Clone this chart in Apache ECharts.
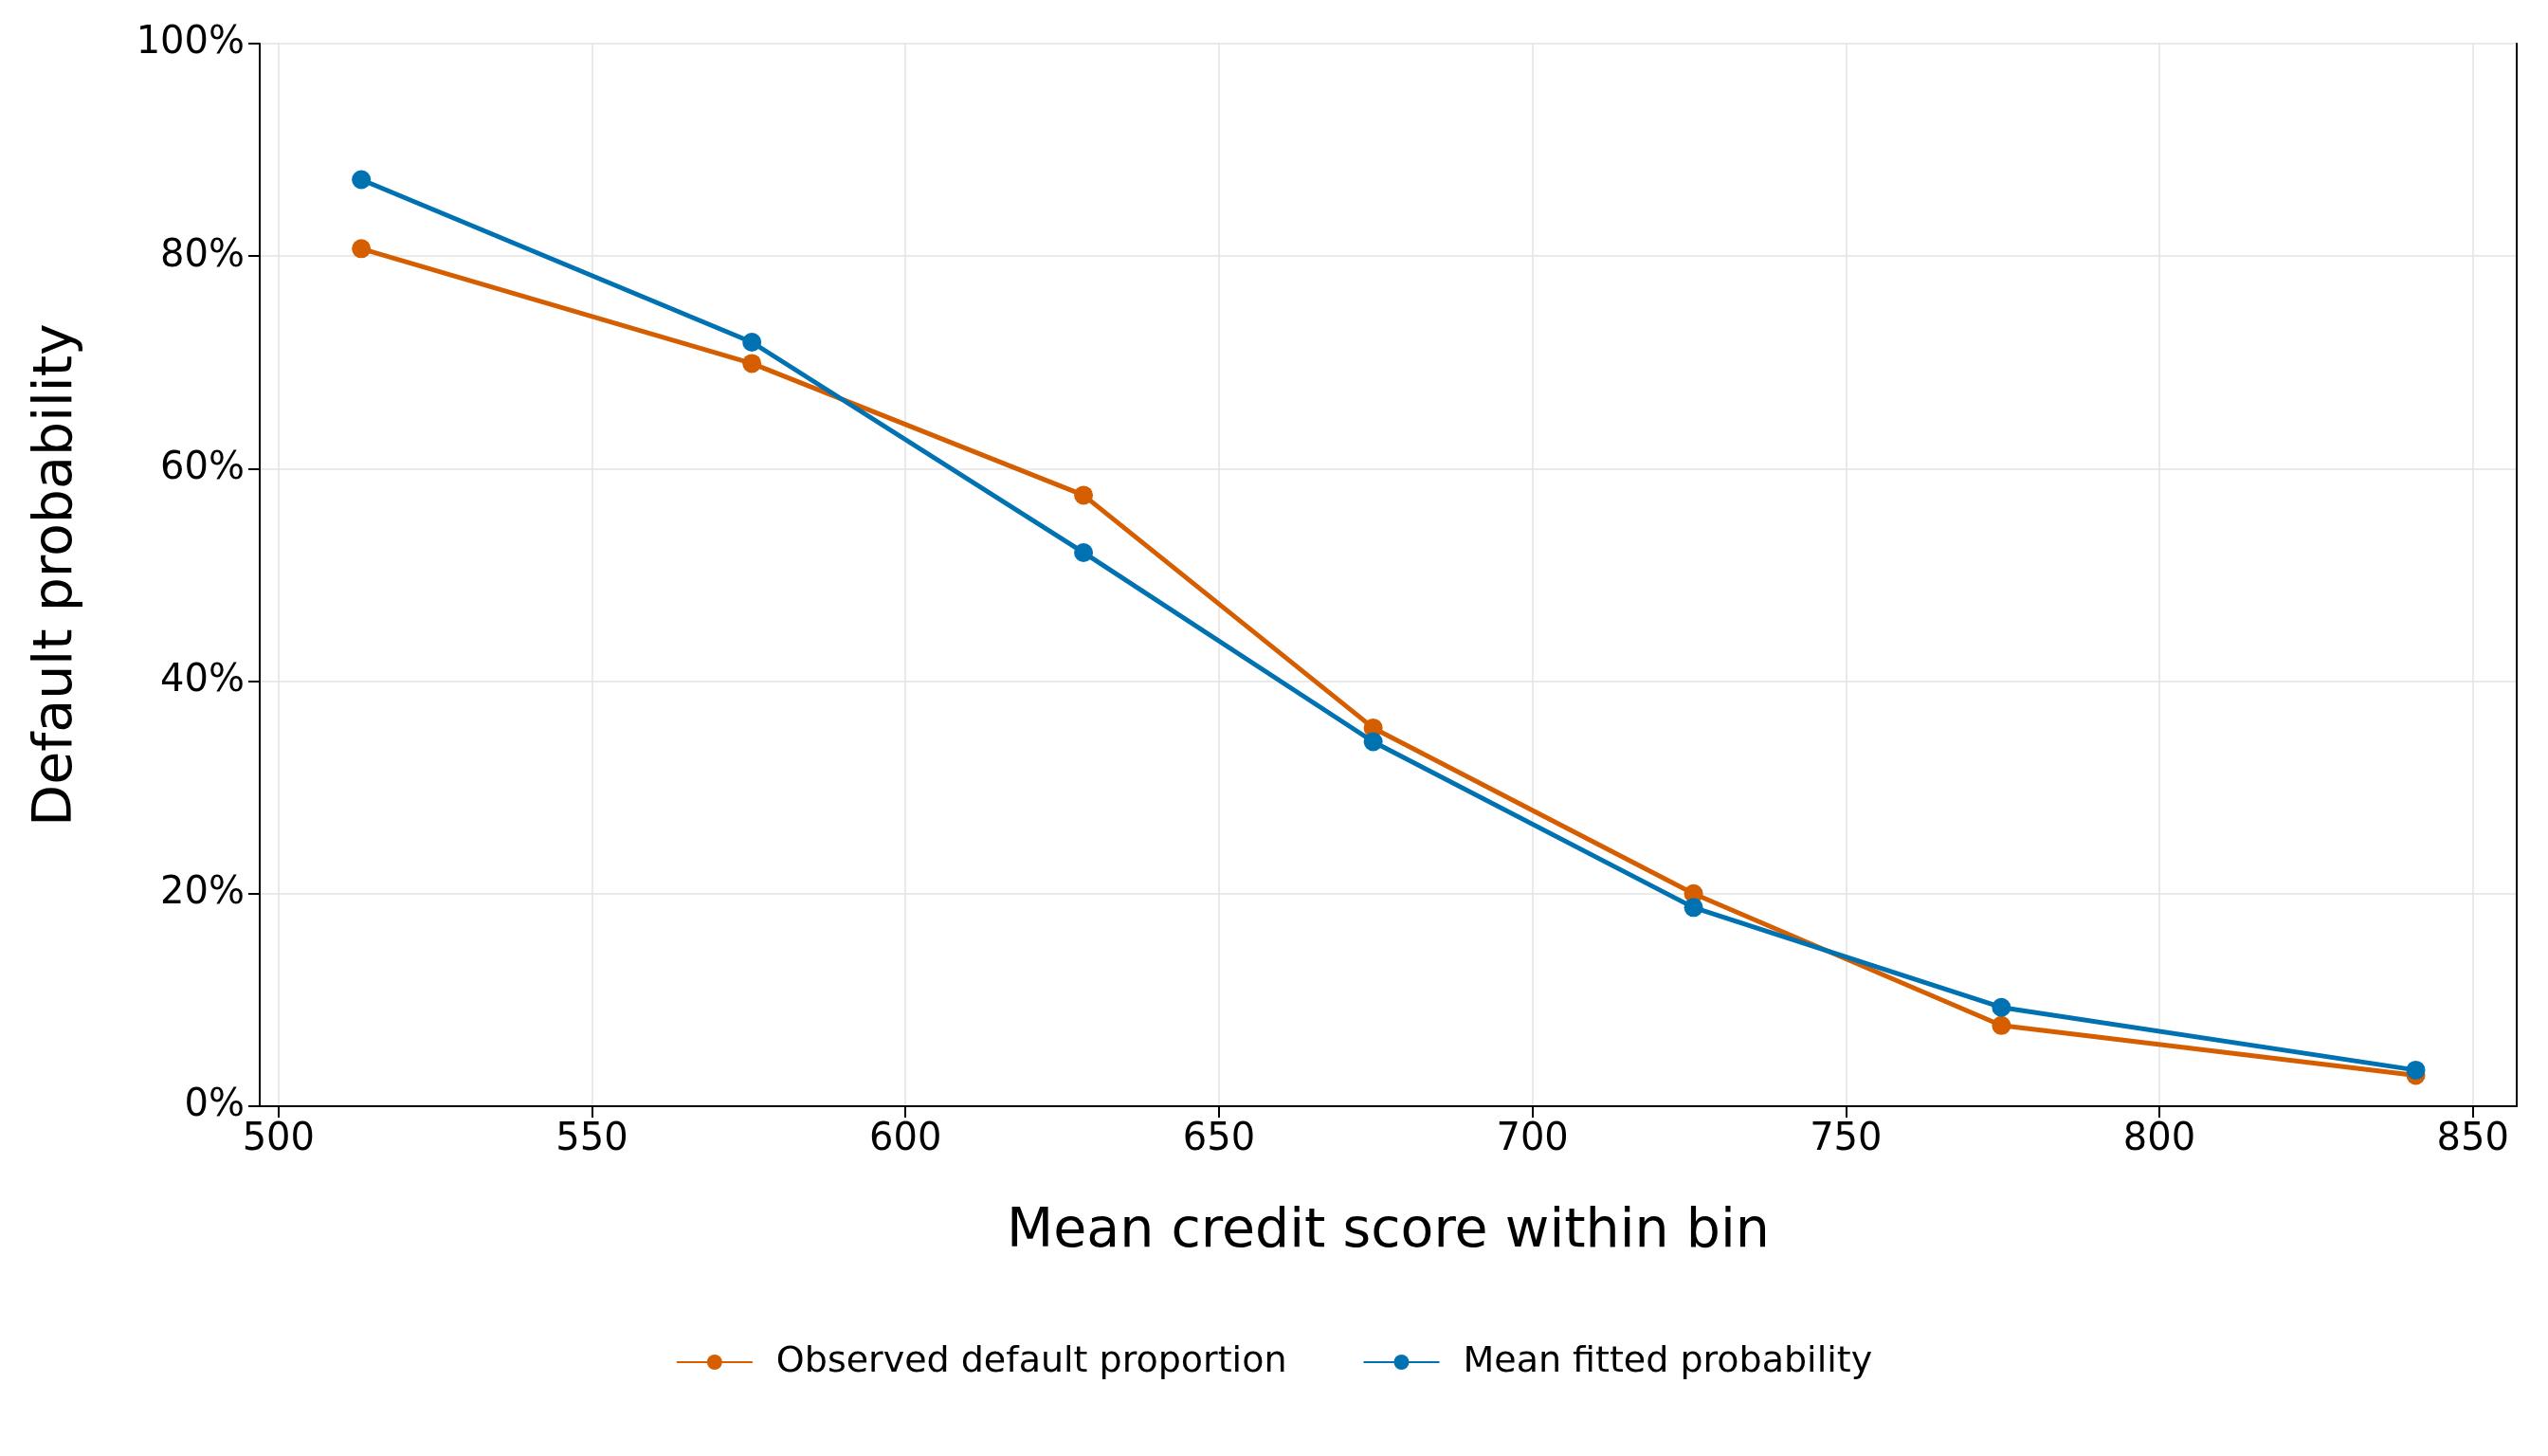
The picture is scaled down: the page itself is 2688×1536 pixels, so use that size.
<!DOCTYPE html>
<html><head><meta charset="utf-8">
<script src="https://cdn.jsdelivr.net/npm/echarts@6/dist/echarts.min.js"></script>
<style>html,body{margin:0;padding:0;background:#fff}#c{width:2688px;height:1536px}</style>
</head><body><div id="c"></div>
<script>
const scores = [513.2, 575.5, 628.4, 674.6, 725.7, 774.8, 840.9];
const observed = [80.7, 69.9, 57.5, 35.6, 20.0, 7.6, 2.9];
const fitted = [87.2, 71.9, 52.1, 34.3, 18.7, 9.3, 3.4];
const xTicks = [500, 550, 600, 650, 700, 750, 800, 850];
const font = 'DejaVu Sans';
const chart = echarts.init(document.getElementById('c'));
const pair = a => scores.map((x, i) => [x, a[i]]);
const frame = {show: true, lineStyle: {color: '#000', width: 2}};
chart.setOption({
  animation: false,
  grid: {left: 274, right: 33, top: 46, bottom: 369},
  legend: {bottom: 75, left: 'center', itemWidth: 80, itemHeight: 20, itemGap: 80,
    textStyle: {fontFamily: font, fontSize: 38, color: '#000', padding: [0, 0, 0, 20]},
    data: ['Observed default proportion', 'Mean fitted probability']},
  xAxis: [{type: 'value', min: 497, max: 857,
    name: 'Mean credit score within bin', nameLocation: 'middle', nameGap: 105,
    nameTextStyle: {fontFamily: font, fontSize: 57, color: '#000'},
    axisLine: frame,
    axisTick: {show: true, customValues: xTicks, length: 12, lineStyle: {color: '#000', width: 2}},
    axisLabel: {customValues: xTicks, fontFamily: font, fontSize: 40, color: '#000', margin: 16},
    splitLine: {show: true, lineStyle: {color: '#e3e3e3', width: 1.5}}},
   {type: 'value', position: 'top', min: 497, max: 857, axisLine: frame, axisTick: {show: false},
    axisLabel: {show: false}, splitLine: {show: false}}],
  yAxis: [{type: 'value', min: 0, max: 100, interval: 20,
    name: 'Default probability', nameLocation: 'middle', nameGap: 185,
    nameTextStyle: {fontFamily: font, fontSize: 57, color: '#000'},
    axisLine: frame,
    axisTick: {show: true, length: 12, lineStyle: {color: '#000', width: 2}},
    axisLabel: {formatter: '{value}%', fontFamily: font, fontSize: 40, color: '#000', margin: 16},
    splitLine: {show: true, lineStyle: {color: '#e3e3e3', width: 1.5}}},
   {type: 'value', position: 'right', min: 0, max: 100, axisLine: frame, axisTick: {show: false},
    axisLabel: {show: false}, splitLine: {show: false}}],
  series: [
    {name: 'Observed default proportion', type: 'line', data: pair(observed), color: '#D55E00',
     symbol: 'circle', symbolSize: 20, lineStyle: {width: 5}},
    {name: 'Mean fitted probability', type: 'line', data: pair(fitted), color: '#0072B2',
     symbol: 'circle', symbolSize: 20, lineStyle: {width: 5}}
  ]
});
</script></body></html>
